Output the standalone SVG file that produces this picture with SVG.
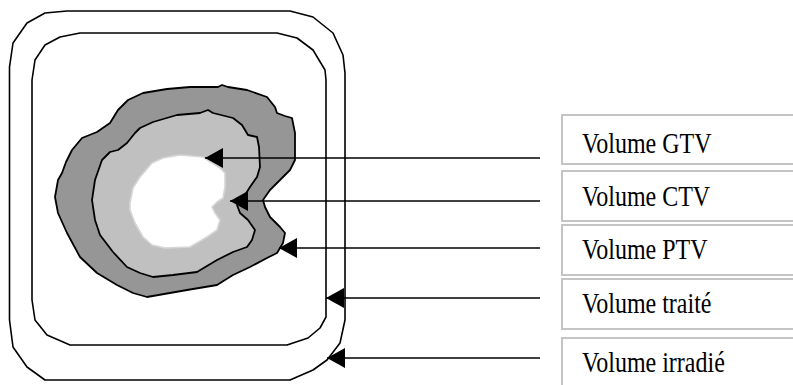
<svg xmlns="http://www.w3.org/2000/svg" width="793" height="385" viewBox="0 0 793 385">
<style>
.frame{fill:none;stroke:#000;stroke-width:1.6;stroke-linejoin:round}
.blob{stroke:#000;stroke-width:1.8;stroke-linejoin:round}
.box{fill:#fff;stroke:#c4c4c4;stroke-width:2}
.lbl{font-family:"Liberation Serif","Times New Roman",serif;font-size:24px;fill:#000}
.conn{stroke:#000;stroke-width:1.6;fill:none}
</style>
<defs>
<marker id="ah" markerUnits="userSpaceOnUse" viewBox="0 0 18 20" refX="18" refY="10" markerWidth="18" markerHeight="20" orient="auto">
<path d="M0,0 L18,10 L0,20 z" fill="#000"/>
</marker>
</defs>
<rect width="793" height="385" fill="#fff"/>
<g id="irradie-volume">
<path class="frame" d="M67,11 L290,11 L313,17 L333,33 L343,55 L345,73 L345,320 L340,343 L327,360 L313,370 L290,380 L45,380 L27,367 L13,347 L9.5,320 L9.5,67 L13,43 L27,23 L45,13 Z"/>
</g>
<g id="traite-volume">
<path class="frame" d="M80,33 L277,33 L297,38 L313,50 L325,70 L326,80 L326,317 L320,328 L308,338 L287,345 L70,345 L47,335 L35,320 L32,300 L32,80 L35,60 L45,45 L60,37 Z"/>
</g>
<g id="ptv-volume">
<path class="blob" fill="#969696" d="M55,197 L58,180 L62,173 L66,162 L72,150 L82,138 L97,132 L110,123 L118,110 L128,100 L143,93 L167,89 L190,87 L218,87 L222,85 L228,87 L247,90 L267,97 L275,107 L277,113 L285,116 L292,118 L295,133 L295,160 L290,170 L280,180 L270,190 L263,200 L265,207 L270,217 L280,227 L285,233 L283,243 L277,253 L267,258 L250,267 L233,275 L217,285 L187,290 L147,297 L133,293 L117,285 L97,273 L80,257 L67,233 L58,213 Z"/>
</g>
<g id="ctv-volume">
<path class="blob" fill="#c0c0c0" d="M92,200 L95,180 L102,160 L110,152 L118,150 L127,143 L135,133 L140,128 L153,122 L177,115 L200,113 L208,110 L213,113 L233,118 L242,125 L248,135 L257,137 L259,147 L260,167 L257,177 L250,187 L245,195 L237,205 L240,213 L248,220 L255,230 L252,240 L247,247 L233,252 L217,260 L197,272 L173,275 L153,277 L140,273 L127,267 L113,252 L100,235 L95,220 Z"/>
</g>
<g id="gtv-volume">
<path fill="#fff" stroke="#d6d6d6" stroke-width="1.6" stroke-linejoin="round" d="M130,203 L133,188 L140,177 L152,163 L163,158 L180,155 L203,157 L220,168 L225,173 L225,187 L223,198 L217,202 L212,207 L215,213 L220,220 L217,230 L207,237 L190,247 L165,248 L152,245 L143,237 L135,223 L130,210 Z"/>
</g>
<g id="connectors">
<line class="conn" x1="540" y1="158" x2="205" y2="158" marker-end="url(#ah)"/>
<line class="conn" x1="540" y1="201" x2="230" y2="201" marker-end="url(#ah)"/>
<line class="conn" x1="540" y1="248" x2="279" y2="248" marker-end="url(#ah)"/>
<line class="conn" x1="540" y1="298" x2="326" y2="298" marker-end="url(#ah)"/>
<line class="conn" x1="540" y1="358" x2="327" y2="358" marker-end="url(#ah)"/>
</g>
<g id="label-gtv">
<rect class="box" x="562" y="115" width="240" height="49"/>
<text class="lbl" transform="translate(582,153) scale(1,1.25)">Volume GTV</text>
</g>
<g id="label-ctv">
<rect class="box" x="562" y="171" width="240" height="50"/>
<text class="lbl" transform="translate(582,206) scale(1,1.25)">Volume CTV</text>
</g>
<g id="label-ptv">
<rect class="box" x="562" y="225" width="240" height="50"/>
<text class="lbl" transform="translate(582,259) scale(1,1.25)">Volume PTV</text>
</g>
<g id="label-traite">
<rect class="box" x="562" y="279" width="240" height="50"/>
<text class="lbl" transform="translate(582,313) scale(1,1.25)">Volume traité</text>
</g>
<g id="label-irradie">
<rect class="box" x="562" y="338" width="240" height="60"/>
<text class="lbl" transform="translate(582,372) scale(1,1.25)">Volume irradié</text>
</g>
</svg>
